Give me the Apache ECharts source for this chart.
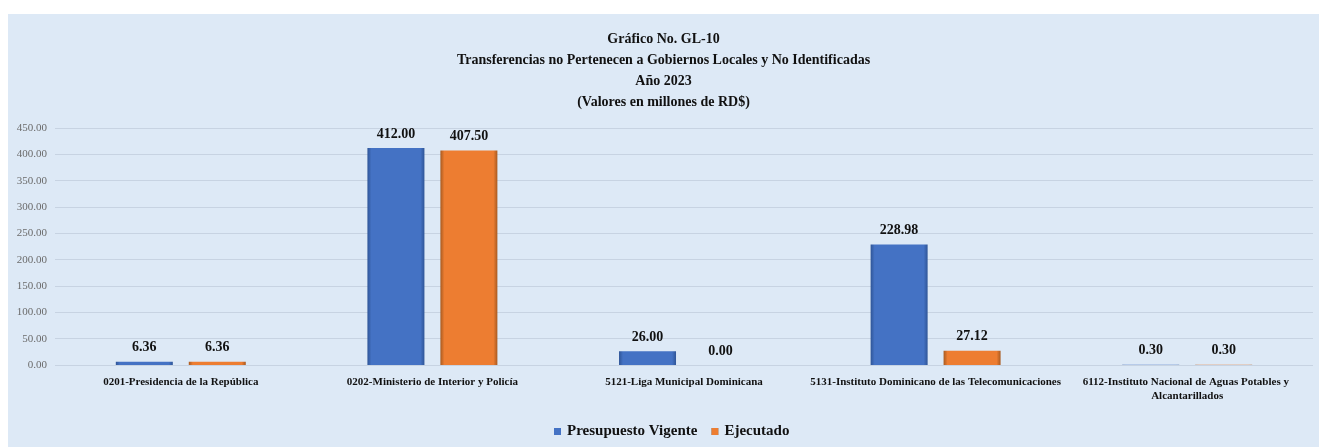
<!DOCTYPE html>
<html>
<head>
<meta charset="utf-8">
<script src="https://cdn.jsdelivr.net/npm/echarts@6/dist/echarts.min.js"></script>
<style>
  html, body { margin: 0; padding: 0; background: #ffffff; }
  #chart { position: absolute; left: 8px; top: 14px; width: 1311px; height: 433px; }
</style>
</head>
<body>
<div id="chart"></div>
<script>
// categorias (instituciones)
var categorias = [
  '0201-Presidencia de la República',
  '0202-Ministerio de Interior y Policía',
  '5121-Liga Municipal Dominicana',
  '5131-Instituto Dominicano de las Telecomunicaciones',
  '6112-Instituto Nacional de Aguas Potables y Alcantarillados'
];
// valores en millones de RD$
var presupuestoVigente = [6.36, 412.00, 26.00, 228.98, 0.30];
var ejecutado = [6.36, 407.50, 0.00, 27.12, 0.30];
var nombresSeries = ['Presupuesto Vigente', 'Ejecutado'];

var fuente = 'Liberation Serif, Times New Roman, serif';

// relleno con bordes oscuros para imitar el bisel de Excel
function gradiente(borde, medio) {
  return new echarts.graphic.LinearGradient(0, 0, 1, 0, [
    { offset: 0, color: borde },
    { offset: 0.07, color: medio },
    { offset: 0.93, color: medio },
    { offset: 1, color: borde }
  ]);
}

var etiqueta = {
  show: true,
  position: 'top',
  distance: 7,
  fontFamily: fuente,
  fontWeight: 'bold',
  fontSize: 14,
  color: '#111',
  formatter: function (p) { return p.value.toFixed(2); }
};

var myChart = echarts.init(document.getElementById('chart'));
var option = {
  backgroundColor: '#dde9f6',
  title: {
    text: 'Gráfico No. GL-10\nTransferencias no Pertenecen a Gobiernos Locales y No Identificadas\nAño 2023\n(Valores en millones de RD$)',
    left: 'center',
    top: 10,
    textStyle: {
      fontFamily: fuente,
      fontWeight: 'bold',
      fontSize: 14,
      lineHeight: 21,
      color: '#111'
    }
  },
  legend: {
    data: nombresSeries,
    bottom: 8,
    left: 546,
    padding: 0,
    icon: 'rect',
    itemWidth: 7,
    itemHeight: 7,
    itemGap: 14,
    textStyle: {
      fontFamily: fuente,
      fontWeight: 'bold',
      fontSize: 15,
      color: '#111',
      padding: [0, 0, 0, 1]
    }
  },
  grid: {
    left: 47,
    right: 4,
    top: 114,
    bottom: 82
  },
  xAxis: {
    type: 'category',
    data: categorias,
    axisLine: { show: false },
    axisTick: { show: false },
    axisLabel: {
      interval: 0,
      margin: 10,
      width: 258,
      overflow: 'break',
      fontFamily: fuente,
      fontWeight: 'bold',
      fontSize: 11,
      lineHeight: 14,
      color: '#111'
    }
  },
  yAxis: {
    type: 'value',
    min: 0,
    max: 450,
    interval: 50,
    axisLine: { show: false },
    axisTick: { show: false },
    axisLabel: {
      margin: 8,
      fontFamily: fuente,
      fontSize: 11,
      color: '#6b6b6b',
      formatter: function (v) { return v.toFixed(2); }
    },
    splitLine: {
      lineStyle: { color: 'rgba(150,162,180,0.3)', width: 1 }
    }
  },
  series: [
    {
      name: nombresSeries[0],
      type: 'bar',
      data: presupuestoVigente,
      barWidth: 57,
      barGap: '28%',
      itemStyle: {
        color: gradiente('#2f5597', '#4472c4')
      },
      label: etiqueta
    },
    {
      name: nombresSeries[1],
      type: 'bar',
      data: ejecutado,
      barWidth: 57,
      barGap: '28%',
      itemStyle: {
        color: gradiente('#a85a20', '#ed7d31')
      },
      label: etiqueta
    }
  ]
};
myChart.setOption(option);
</script>
</body>
</html>
